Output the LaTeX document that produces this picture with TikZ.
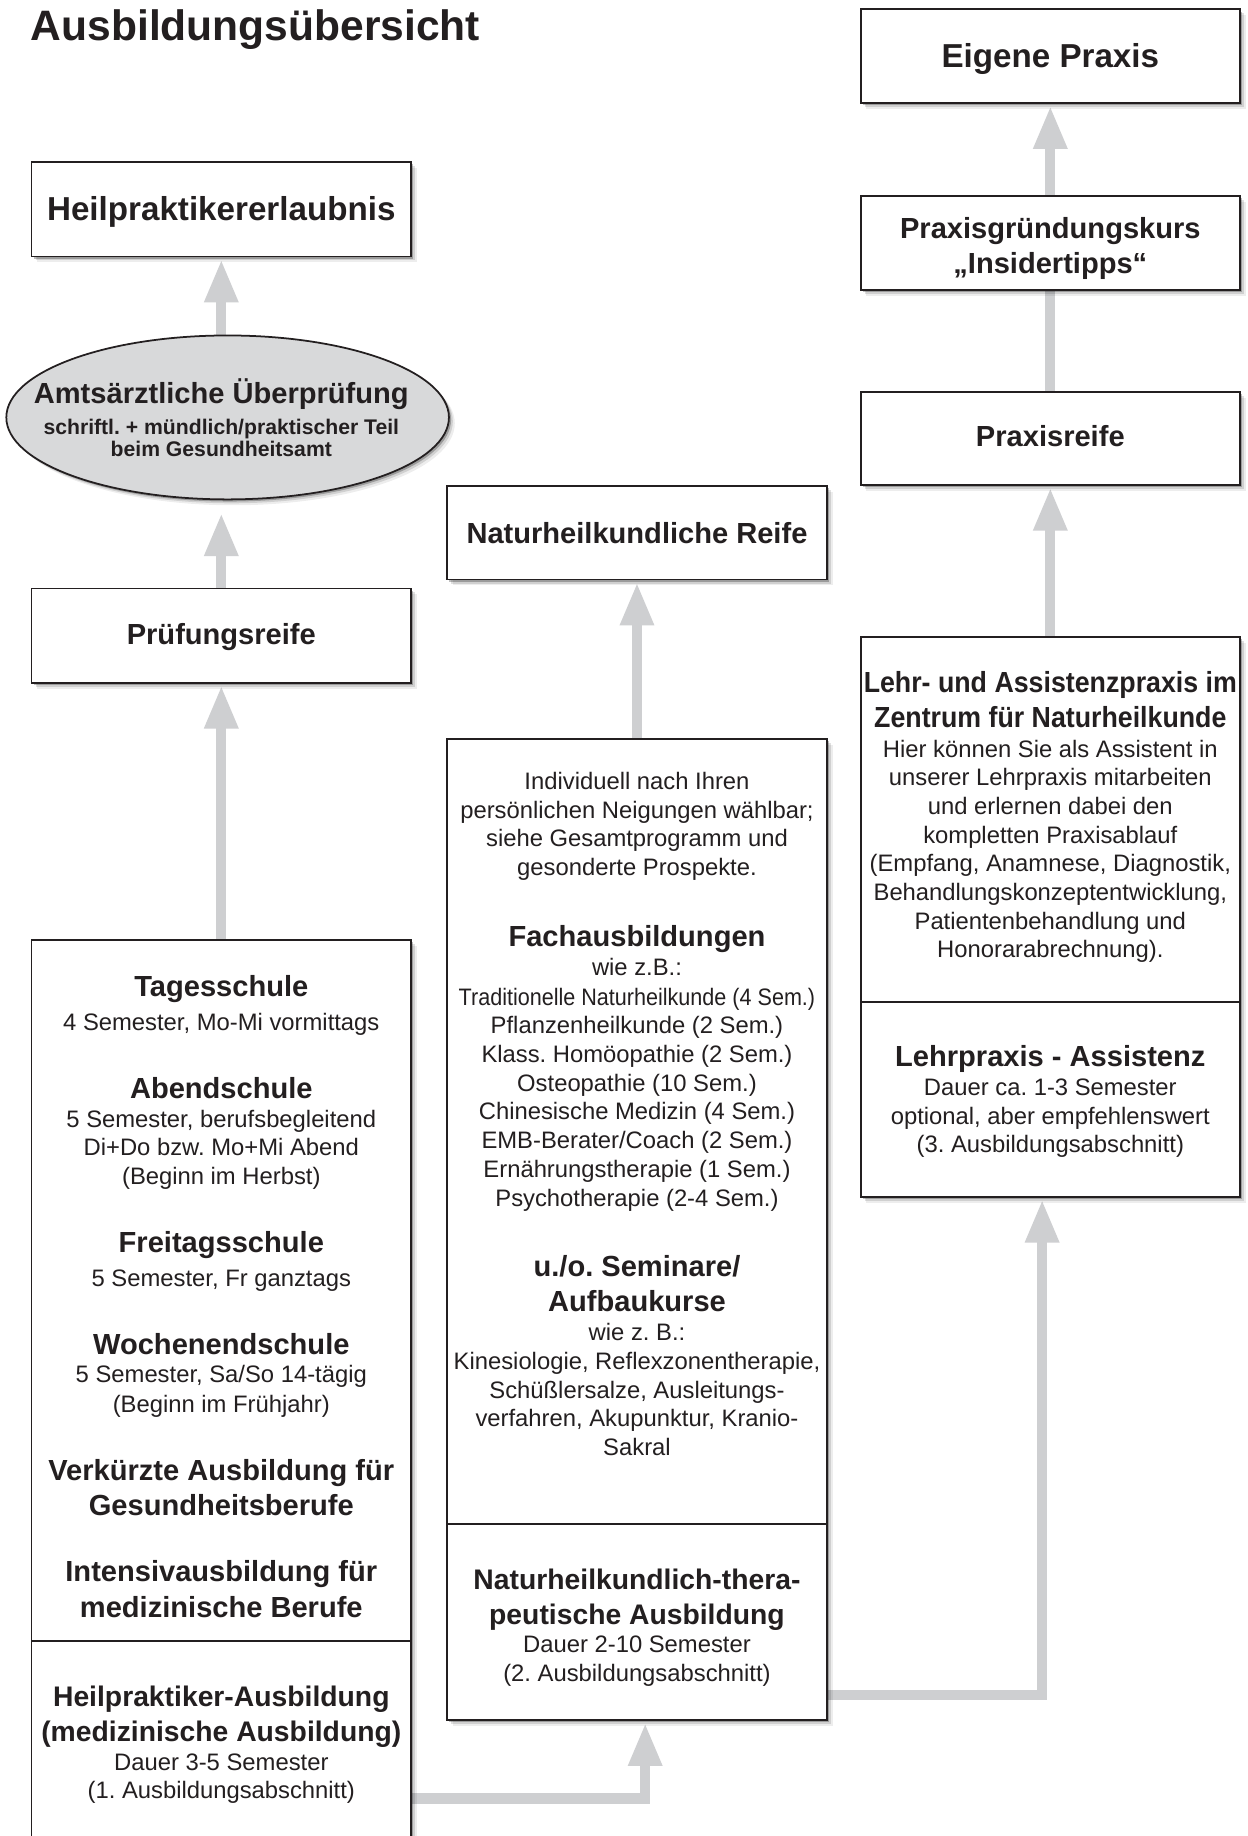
\documentclass[tikz,border=0pt]{standalone}
\usepackage{fontspec}
\usepackage{graphicx}
\setmainfont{Liberation Sans}
\usetikzlibrary{arrows.meta,shapes.geometric,shadows,backgrounds,calc}
\definecolor{ink}{HTML}{231F20}
\definecolor{arrgray}{HTML}{CECFD1}
\definecolor{ellgray}{HTML}{D8D9DA}
\tikzset{
  softshadow/.style={
    general shadow={fill=black,opacity=0.07,shadow xshift=3.0pt,shadow yshift=-3.0pt},
    general shadow={fill=black,opacity=0.12,shadow xshift=2.0pt,shadow yshift=-2.0pt},
    general shadow={fill=black,opacity=0.25,shadow xshift=1.1pt,shadow yshift=-1.1pt}},
  box/.style={rectangle,draw=ink,line width=0.9pt,fill=white,softshadow,
    minimum width=194.4pt,inner sep=0pt,outer sep=0pt},
  divider/.style={draw=ink,line width=0.9pt},
  arr/.style={draw=arrgray,line width=5.2pt,-{Triangle[length=22pt,width=16.2pt]}},
  bar/.style={draw=arrgray,line width=5.2pt},
  ttl/.style={font=\fontsize{21.8}{26}\selectfont\bfseries,text=ink,inner sep=0pt},
  big/.style={font=\fontsize{17}{20}\selectfont\bfseries,text=ink,inner sep=0pt,anchor=base},
  hd/.style={font=\fontsize{14.9}{18}\selectfont\bfseries,text=ink,inner sep=0pt,anchor=base},
  hs/.style={font=\fontsize{14.5}{18}\selectfont\bfseries,text=ink,inner sep=0pt,anchor=base},
  rg/.style={font=\fontsize{12.2}{14.6}\selectfont,text=ink,inner sep=0pt,anchor=base},
  sm/.style={font=\fontsize{10.85}{13}\selectfont\bfseries,text=ink,inner sep=0pt,anchor=base},
}
\begin{document}
\frenchspacing
\begin{tikzpicture}[x=0.6pt,y=-0.6pt]
\useasboundingbox (0,0) rectangle (1065,1568);
\clip (0,0) rectangle (1065,1568);

\node[ttl,anchor=base west] (title) at (26,34.2) {Ausbildungsübersicht};

% ---------- left column
\node[box,minimum height=48.6pt] (hpe) at (189,178.6) {};
\node[ellipse,draw=ink,line width=0.9pt,fill=ellgray,softshadow,
      minimum width=226.8pt,minimum height=84pt,inner sep=0pt] (ell) at (194.4,356.5) {};
\node[box,minimum height=48.3pt] (pr) at (189,542.75) {};
\node[box,minimum height=493.2pt] (lbox) at (189,1214) {};
\draw[divider] (lbox.west |- 0,1401.5) -- (lbox.east |- 0,1401.5);

% ---------- middle column
\node[box,minimum height=48pt] (nr) at (544,455) {};
\node[box,minimum height=502.8pt] (mbox) at (544,1050) {};
\draw[divider] (mbox.west |- 0,1301.6) -- (mbox.east |- 0,1301.6);

% ---------- right column
\node[box,minimum height=48pt] (ep) at (897,48) {};
\node[box,minimum height=48.2pt] (pg) at (897,207.5) {};
\node[box,minimum height=47.7pt] (prx) at (897,374.25) {};
\node[box,minimum height=286.8pt] (rbox) at (897,783) {};
\draw[divider] (rbox.west |- 0,855.5) -- (rbox.east |- 0,855.5);

% ---------- single texts
\node[big] (t1) at (189,188.7) {Heilpraktikererlaubnis};
\node[hd] (e1) at (189,345) {Amtsärztliche Überprüfung};
\node[sm] (e2) at (189,371) {schriftl. + mündlich/praktischer Teil};
\node[sm] (e3) at (189,390) {beim Gesundheitsamt};
\node[hd] (t2) at (189,550.5) {Prüfungsreife};
\node[hd] (t3) at (544,464) {Naturheilkundliche Reife};
\node[big] (t4) at (897,57.5) {Eigene Praxis};
\node[hd] (t5) at (897,204) {Praxisgründungskurs};
\node[hd] (t6) at (897,234) {„Insidertipps“};
\node[hd] (t7) at (897,381.5) {Praxisreife};

% ---------- left box lines
\foreach \Ypos/\Sty/\Txt [count=\i] in {
  851/hd/{Tagesschule},
  880/rg/{4 Semester, Mo-Mi vormittags},
  938/hd/{Abendschule},
  963/rg/{5 Semester, berufsbegleitend},
  987/rg/{Di+Do bzw. Mo+Mi Abend},
  1012/rg/{(Beginn im Herbst)},
  1070/hd/{Freitagsschule},
  1099/rg/{5 Semester, Fr ganztags},
  1157/hd/{Wochenendschule},
  1181/rg/{5 Semester, Sa/So 14-tägig},
  1206/rg/{(Beginn im Frühjahr)},
  1264/hd/{Verkürzte Ausbildung für},
  1294/hd/{Gesundheitsberufe},
  1351/hd/{Intensivausbildung für},
  1381/hd/{medizinische Berufe},
  1457/hs/{Heilpraktiker-Ausbildung},
  1487.5/hs/{(medizinische Ausbildung)},
  1511.7/rg/{Dauer 3-5 Semester},
  1535.8/rg/{(1. Ausbildungsabschnitt)}}
  \node[\Sty] (L\i) at (189,\Ypos) {\Txt};

% ---------- middle box lines
\foreach \Ypos/\Sty/\Txt [count=\i] in {
  674/rg/{Individuell nach Ihren},
  699/rg/{persönlichen Neigungen wählbar;},
  723/rg/{siehe Gesamtprogramm und},
  748/rg/{gesonderte Prospekte.},
  808/hd/{Fachausbildungen},
  833/rg/{wie z.B.:},
  858.5/rg/{\scalebox{0.906}[1]{Traditionelle Naturheilkunde (4 Sem.)}},
  883/rg/{Pflanzenheilkunde (2 Sem.)},
  907.5/rg/{Klass. Homöopathie (2 Sem.)},
  932/rg/{Osteopathie (10 Sem.)},
  956.5/rg/{Chinesische Medizin (4 Sem.)},
  981/rg/{EMB-Berater/Coach (2 Sem.)},
  1005.5/rg/{Ernährungstherapie (1 Sem.)},
  1030/rg/{Psychotherapie (2-4 Sem.)},
  1090/hd/{u./o. Seminare/},
  1120/hd/{Aufbaukurse},
  1145/rg/{wie z. B.:},
  1169.5/rg/{Kinesiologie, Reflexzonentherapie,},
  1194/rg/{Schüßlersalze, Ausleitungs-},
  1218.5/rg/{verfahren, Akupunktur, Kranio-},
  1243/rg/{Sakral},
  1357.4/hs/{Naturheilkundlich-thera-},
  1387/hs/{peutische Ausbildung},
  1411.5/rg/{Dauer 2-10 Semester},
  1436.2/rg/{(2. Ausbildungsabschnitt)}}
  \node[\Sty] (M\i) at (544,\Ypos) {\Txt};

% ---------- right box lines
\foreach \Ypos/\Sty/\Txt [count=\i] in {
  591/hd/{\scalebox{0.92}[1]{Lehr- und Assistenzpraxis im}},
  621/hd/{\scalebox{0.92}[1]{Zentrum für Naturheilkunde}},
  646.5/rg/{Hier können Sie als Assistent in},
  671/rg/{unserer Lehrpraxis mitarbeiten},
  695.5/rg/{und erlernen dabei den},
  720/rg/{kompletten Praxisablauf},
  744.5/rg/{(Empfang, Anamnese, Diagnostik,},
  769/rg/{Behandlungskonzeptentwicklung,},
  793.5/rg/{Patientenbehandlung und},
  818/rg/{Honorarabrechnung).},
  911/hd/{Lehrpraxis - Assistenz},
  935.5/rg/{Dauer ca. 1-3 Semester},
  960/rg/{optional, aber empfehlenswert},
  984.5/rg/{(3. Ausbildungsabschnitt)}}
  \node[\Sty] (R\i) at (897,\Ypos) {\Txt};

\coordinate (c1) at (lbox.east |- 0,1536);
\coordinate (c2) at (mbox.east |- 0,1447.5);

% ---------- connectors
\begin{scope}[on background layer]
\fill[white] (0,0) rectangle (1065,1568);
\draw[arr] (hpe.south |- ell.center) -- ($(hpe.south)+(0,2.5)$);
\draw[arr] (pr.center) -- ($(pr.north |- ell.south)+(0,11)$);
\draw[arr] ($(lbox.north)+(0,20)$) -- ($(pr.south)+(0,2.5)$);
\draw[arr] ($(mbox.north)+(0,20)$) -- ($(nr.south)+(0,2.5)$);
\draw[arr] ($(rbox.north)+(0,20)$) -- ($(prx.south)+(0,2.5)$);
\draw[bar] (prx.center) -- (pg.center);
\draw[arr] (pg.center) -- ($(ep.south)+(0,2.5)$);
\draw[arr] (c1) -| ($(mbox.south)+(7,2.5)$);
\draw[arr] (c2) -| ($(rbox.south)+(-7,2.5)$);
\end{scope}
\end{tikzpicture}
\end{document}
